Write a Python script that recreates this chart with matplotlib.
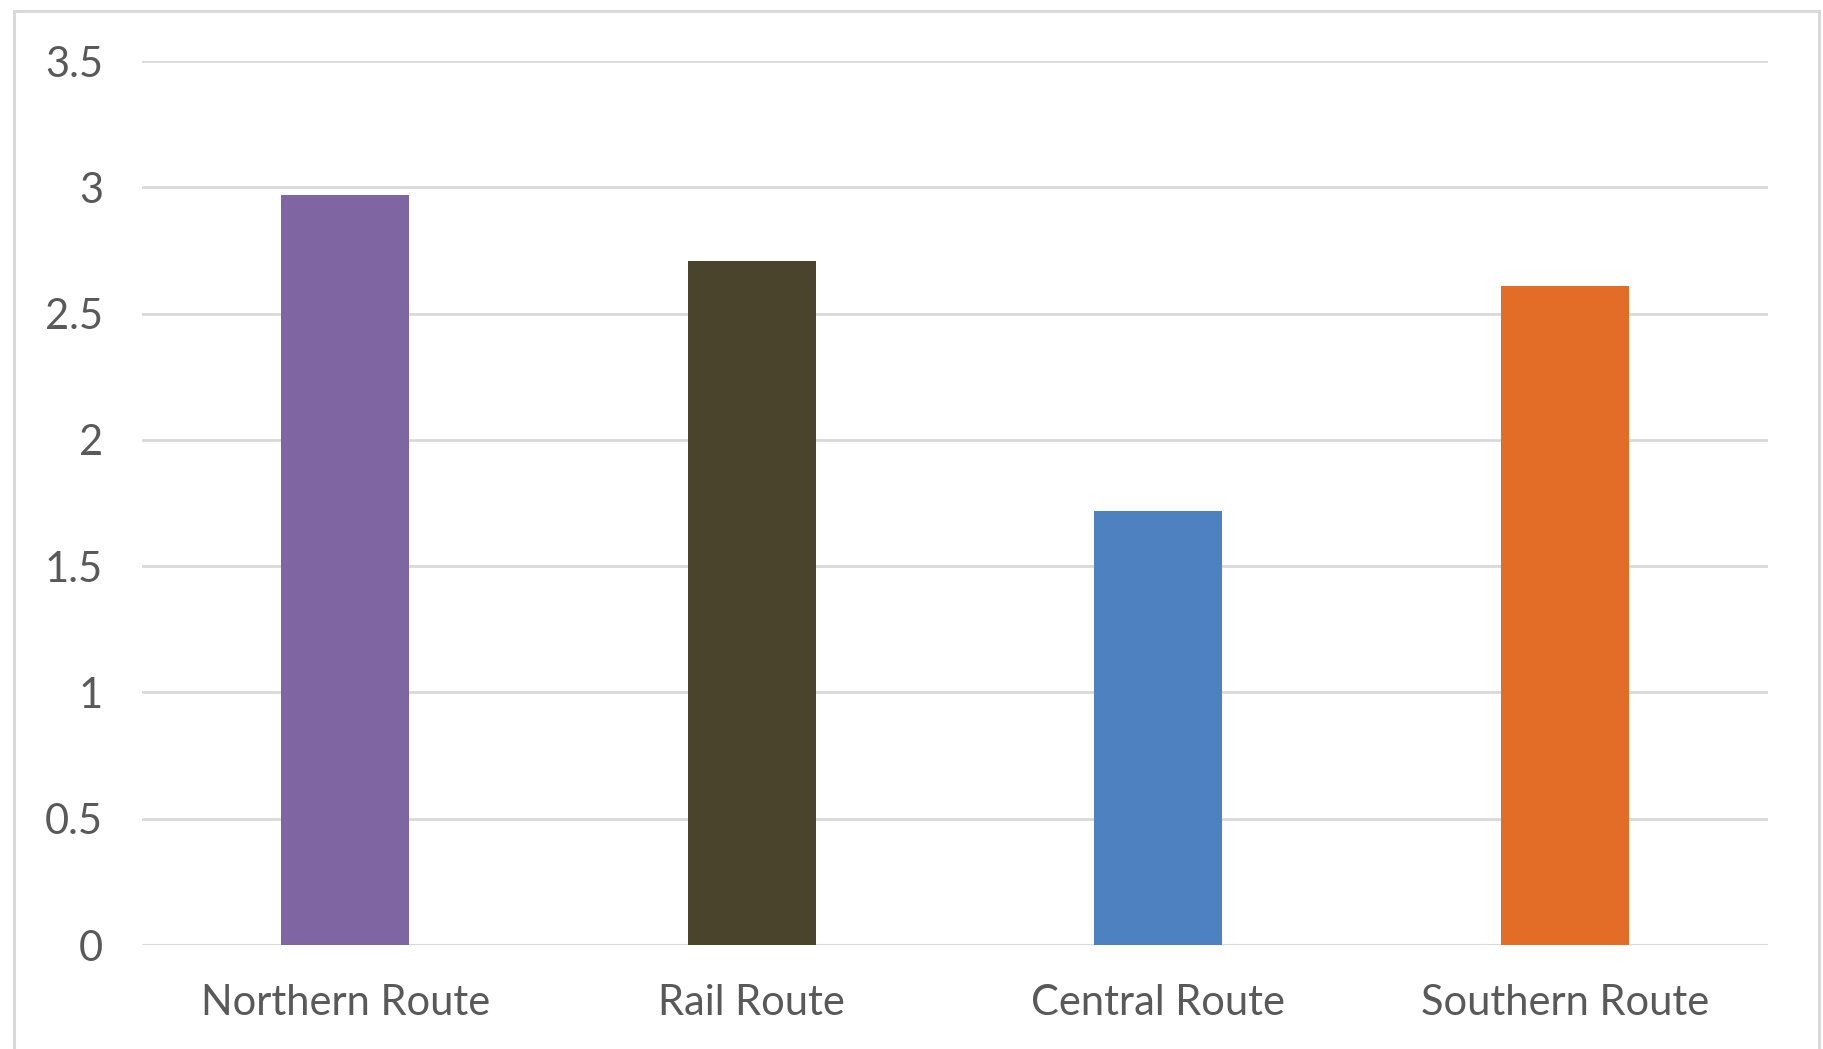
import matplotlib.pyplot as plt
from matplotlib.patches import Rectangle

routes = ["Northern Route", "Rail Route", "Central Route", "Southern Route"]
values = [2.97, 2.71, 1.72, 2.61]
colors = ["#7F65A1", "#4A442C", "#4E81BF", "#E36D27"]
yticks = [0, 0.5, 1, 1.5, 2, 2.5, 3, 3.5]
ytick_labels = ["0", "0.5", "1", "1.5", "2", "2.5", "3", "3.5"]

plt.rcParams["font.family"] = ["Lato", "DejaVu Sans"]

fig = plt.figure(figsize=(18.23, 10.49), dpi=100)
ax = fig.add_axes([0.0779, 0.0991, 0.8919, 0.8427])

# light outer chart border
fig.patches.append(Rectangle((14 / 1823, -0.05), (1819 - 14) / 1823, 1.05 - 11 / 1049,
                             transform=fig.transFigure, fill=False,
                             edgecolor="#d9d9d9", linewidth=2.2))

x = range(len(routes))
ax.bar(x, values, width=0.315, color=colors, zorder=3)

ax.set_xlim(-0.5, len(routes) - 0.5)
ax.set_ylim(0, 3.5)
ax.set_yticks(yticks)
ax.set_yticklabels(ytick_labels)
ax.set_xticks(list(x))
ax.set_xticklabels(routes)

ax.yaxis.grid(True, color="#d9d9d9", linewidth=2.0, zorder=0)
ax.set_axisbelow(True)
for s in ax.spines.values():
    s.set_visible(False)
ax.axhline(0, color="#d9d9d9", linewidth=2.2, zorder=2)

ax.tick_params(axis="both", length=0, labelsize=30, labelcolor="#595959")
ax.tick_params(axis="y", pad=28)
ax.tick_params(axis="x", pad=28)

fig.savefig("out.png", dpi=100)
